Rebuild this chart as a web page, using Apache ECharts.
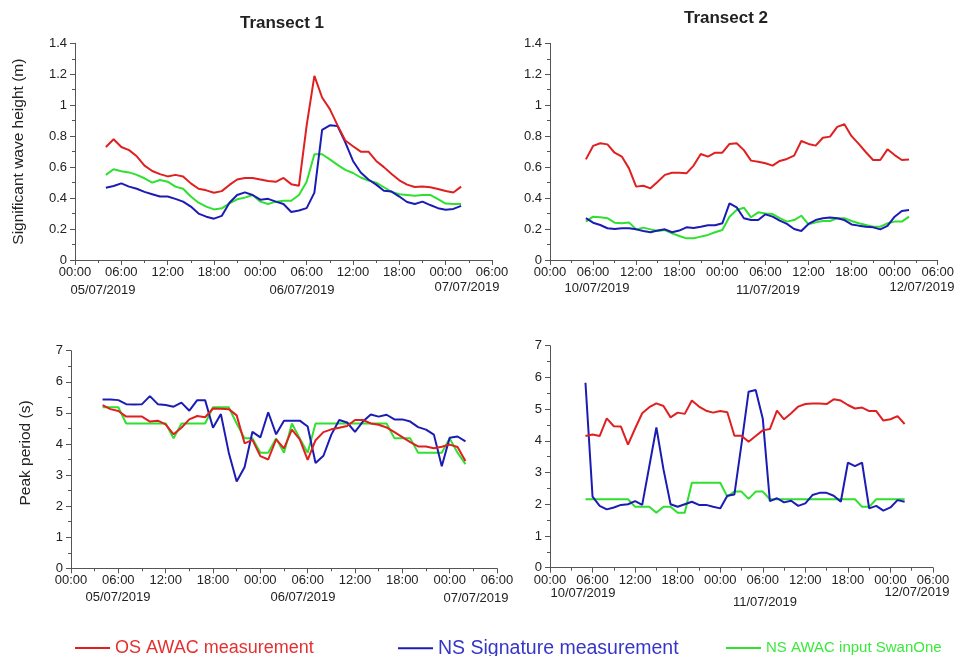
<!DOCTYPE html>
<html><head><meta charset="utf-8">
<script src="https://cdn.jsdelivr.net/npm/echarts@6/dist/echarts.min.js"></script>
<style>html,body{margin:0;padding:0;background:#fff}#c{width:957px;height:656px}</style>
</head><body><div id="c"></div>
<script>
// ---- tick labels / categories ----
const xTickLabels = ['00:00','06:00','12:00','18:00','00:00','06:00','12:00','18:00','00:00','06:00'];
const t1Dates = ['05/07/2019','06/07/2019','07/07/2019'];
const t2Dates = ['10/07/2019','11/07/2019','12/07/2019'];
const seriesNames = ['OS AWAC measurement','NS Signature measurement','NS AWAC input SwanOne'];
const t1StartHour = 4;   // 05/07/2019 04:00, hourly samples
const t2StartHour = 5;   // 10/07/2019 05:00, hourly samples

// ---- Transect 1 : significant wave height (m), hours 4..50 ----
const hsT1OS = [0.73,0.78,0.73,0.71,0.67,0.61,0.575,0.555,0.54,0.55,
  0.54,0.495,0.46,0.45,0.435,0.445,0.485,0.52,0.53,0.53,
  0.52,0.51,0.505,0.53,0.49,0.48,0.87,1.19,1.05,0.975,
  0.87,0.772,0.735,0.70,0.70,0.64,0.60,0.555,0.515,0.487,
  0.472,0.475,0.47,0.459,0.446,0.436,0.474];
const hsT1NS = [0.467,0.478,0.495,0.474,0.46,0.44,0.425,0.41,0.41,0.395,
  0.377,0.345,0.30,0.28,0.267,0.285,0.37,0.42,0.437,0.42,
  0.39,0.395,0.377,0.362,0.31,0.32,0.335,0.435,0.84,0.87,
  0.865,0.76,0.64,0.565,0.52,0.487,0.447,0.442,0.41,0.375,
  0.362,0.377,0.355,0.335,0.325,0.33,0.35];
const hsT1Swan = [0.55,0.586,0.573,0.566,0.55,0.528,0.50,0.517,0.506,0.474,
  0.46,0.41,0.37,0.345,0.327,0.334,0.366,0.392,0.403,0.42,
  0.377,0.362,0.377,0.383,0.383,0.42,0.505,0.683,0.683,0.65,
  0.615,0.582,0.562,0.533,0.513,0.50,0.47,0.44,0.425,0.42,
  0.415,0.42,0.42,0.393,0.365,0.362,0.362];

// ---- Transect 2 : significant wave height (m), hours 5..50 ----
const hsT2OS = [0.65,0.737,0.754,0.747,0.693,0.668,0.592,0.474,0.48,0.463,
  0.506,0.55,0.564,0.564,0.56,0.61,0.685,0.668,0.693,0.693,
  0.75,0.754,0.71,0.642,0.635,0.625,0.61,0.64,0.653,0.674,
  0.769,0.75,0.739,0.79,0.797,0.86,0.877,0.80,0.75,0.696,
  0.646,0.646,0.715,0.678,0.646,0.65];
const hsT2NS = [0.27,0.241,0.226,0.205,0.20,0.205,0.205,0.198,0.187,0.179,
  0.19,0.198,0.179,0.19,0.211,0.207,0.215,0.224,0.224,0.237,
  0.366,0.34,0.27,0.258,0.258,0.295,0.28,0.254,0.233,0.20,
  0.187,0.233,0.258,0.27,0.274,0.27,0.258,0.23,0.222,0.215,
  0.211,0.198,0.22,0.28,0.317,0.323];
const hsT2Swan = [0.248,0.28,0.276,0.27,0.241,0.237,0.243,0.198,0.209,0.198,
  0.187,0.194,0.172,0.155,0.14,0.14,0.151,0.162,0.179,0.194,
  0.28,0.323,0.338,0.276,0.308,0.30,0.297,0.27,0.248,0.258,
  0.286,0.23,0.243,0.252,0.252,0.27,0.27,0.252,0.237,0.226,
  0.215,0.215,0.237,0.248,0.248,0.28];

// ---- Transect 1 : peak period (s), hours 4..50 ----
const tpT1OS = [5.25,5.12,5.06,4.88,4.88,4.88,4.72,4.75,4.63,4.31,
  4.52,4.79,4.9,4.86,5.14,5.13,5.12,4.92,4.02,4.13,
  3.61,3.5,4.15,3.86,4.46,4.15,3.49,4.12,4.38,4.47,
  4.52,4.58,4.77,4.77,4.66,4.62,4.53,4.38,4.22,4.06,
  3.92,3.92,3.86,3.91,3.98,3.9,3.45];
const tpT1NS = [5.43,5.43,5.41,5.28,5.27,5.28,5.54,5.28,5.25,5.20,
  5.33,5.07,5.41,5.41,4.52,4.96,3.72,2.79,3.25,4.39,
  4.21,5.02,4.31,4.75,4.75,4.75,4.56,3.39,3.62,4.3,
  4.77,4.69,4.39,4.72,4.95,4.88,4.94,4.79,4.79,4.72,
  4.54,4.46,4.3,3.28,4.2,4.24,4.08];
const tpT1Swan = [5.18,5.18,5.18,4.66,4.66,4.66,4.66,4.66,4.66,4.18,
  4.66,4.66,4.66,4.66,5.18,5.18,5.18,4.66,4.18,4.18,
  3.72,3.72,4.18,3.72,4.66,4.18,3.72,4.66,4.66,4.66,
  4.66,4.66,4.66,4.66,4.66,4.66,4.66,4.18,4.18,4.18,
  3.72,3.72,3.72,3.72,4.18,3.72,3.35];

// ---- Transect 2 : peak period (s), hours 5..50 ----
const tpT2OS = [4.15,4.2,4.15,4.71,4.46,4.45,3.88,4.39,4.87,5.06,
  5.18,5.1,4.74,4.89,4.85,5.27,5.08,4.95,4.89,4.94,
  4.9,4.16,4.16,3.97,4.15,4.33,4.37,4.95,4.68,4.87,
  5.08,5.16,5.18,5.18,5.16,5.31,5.27,5.13,5.02,5.05,
  4.94,4.94,4.64,4.68,4.78,4.53];
const tpT2NS = [5.83,2.24,1.95,1.84,1.9,1.98,2.0,2.1,1.98,3.2,
  4.42,3.1,2.0,1.92,2.0,2.08,1.98,1.98,1.92,1.87,
  2.27,2.31,3.9,5.55,5.6,4.7,2.1,2.19,2.06,2.11,
  1.95,2.03,2.29,2.36,2.36,2.27,2.08,3.31,3.2,3.31,
  1.87,1.95,1.8,1.9,2.13,2.08];
const tpT2Swan = [2.16,2.16,2.16,2.16,2.16,2.16,2.16,1.92,1.92,1.92,
  1.73,1.92,1.92,1.73,1.73,2.68,2.68,2.68,2.68,2.68,
  2.24,2.4,2.4,2.17,2.4,2.4,2.16,2.16,2.16,2.16,
  2.16,2.16,2.16,2.16,2.16,2.16,2.16,2.16,2.16,1.92,
  1.92,2.16,2.16,2.16,2.16,2.16];

// ---- styling ----
const colors = ['#e02020','#1c1cb4','#2fe02f'];
const legendText = ['#e53030','#3535c8','#3ce83c'];
const legendSizes = [18, 19.5, 15];
const legendLefts = [75, 398, 726];
const FONT = 'Liberation Sans, Arial, sans-serif';
const axisCol = '#555';

function pairs(start, vals){ return vals.map((v,i)=>[start+i, v]); }

const grids = [
  {left:75, top:43.3, width:417, height:216.7},
  {left:550, top:43.3, width:390, height:216.7},
  {left:71, top:350.7, width:426, height:217.6},
  {left:550, top:345.7, width:383, height:222}
];

function xAxis(i){
  return {type:'value', gridIndex:i, min:0, max:54, interval:6,
    axisLine:{show:true, lineStyle:{color:axisCol, width:1}},
    axisTick:{show:true, length:5, lineStyle:{color:axisCol}},
    minorTick:{show:true, splitNumber:2, length:3, lineStyle:{color:axisCol}},
    splitLine:{show:false},
    axisLabel:{margin:6, fontSize:13, color:'#222', fontFamily:FONT,
      formatter:(v)=>xTickLabels[Math.round(v/6)]}};
}
function yAxis(i, max, interval, name, gap, pad){
  return {type:'value', gridIndex:i, min:0, max:max, interval:interval,
    name:name, nameLocation:'middle', nameGap:gap,
    nameTextStyle:{fontSize:15.5, color:'#222', fontFamily:FONT, padding:pad||0},
    axisLine:{show:true, lineStyle:{color:axisCol, width:1}},
    axisTick:{show:true, length:5, lineStyle:{color:axisCol}},
    minorTick:{show:true, splitNumber:2, length:3, lineStyle:{color:axisCol}},
    splitLine:{show:false},
    axisLabel:{margin:8, fontSize:13, color:'#222', fontFamily:FONT}};
}

const panelData = [
  {start:t1StartHour, sets:[hsT1OS, hsT1NS, hsT1Swan]},
  {start:t2StartHour, sets:[hsT2OS, hsT2NS, hsT2Swan]},
  {start:t1StartHour, sets:[tpT1OS, tpT1NS, tpT1Swan]},
  {start:t2StartHour, sets:[tpT2OS, tpT2NS, tpT2Swan]}
];
const series = [];
panelData.forEach((p, gi)=>{
  p.sets.forEach((vals, si)=>{
    series.push({type:'line', name:seriesNames[si], xAxisIndex:gi, yAxisIndex:gi,
      data:pairs(p.start, vals), showSymbol:false, symbol:'none', animation:false,
      lineStyle:{color:colors[si], width:2}, itemStyle:{color:colors[si]}, z:3-si});
  });
});

function txt(s, x, y, font){
  return {type:'text', x:x, y:y, silent:true,
    style:{text:s, textAlign:'center', textVerticalAlign:'middle', font:font||('13px '+FONT), fill:'#222'}};
}
const graphics = [
  txt('Transect 1', 282, 23, 'bold 17px '+FONT),
  txt('Transect 2', 726, 18, 'bold 17px '+FONT),
  txt(t1Dates[0], 103, 290), txt(t1Dates[1], 302, 290), txt(t1Dates[2], 467, 287),
  txt(t2Dates[0], 597, 288), txt(t2Dates[1], 768, 290), txt(t2Dates[2], 922, 287),
  txt(t1Dates[0], 118, 597), txt(t1Dates[1], 303, 597), txt(t1Dates[2], 476, 598),
  txt(t2Dates[0], 583, 593), txt(t2Dates[1], 765, 602), txt(t2Dates[2], 917, 592)
];

function legend(idx){
  const s = legendSizes[idx];
  return {show:true, data:[seriesNames[idx]], left:legendLefts[idx], top:648 - s/2, padding:0, icon:'rect',
    itemWidth:35, itemHeight:2, itemGap:0, selectedMode:false,
    textStyle:{fontSize:s, color:legendText[idx], fontFamily:FONT}};
}

const chart = echarts.init(document.getElementById('c'), null, {renderer:'canvas'});
chart.setOption({
  backgroundColor:'#fff',
  animation:false,
  grid:grids,
  xAxis:[xAxis(0), xAxis(1), xAxis(2), xAxis(3)],
  yAxis:[yAxis(0,1.4,0.2,'Significant wave height (m)',48), yAxis(1,1.4,0.2,'',40),
         yAxis(2,7,1,'Peak period (s)',37,[0,0,0,13]), yAxis(3,7,1,'',40)],
  legend:[legend(0), legend(1), legend(2)],
  series:series,
  graphic:graphics
});
</script></body></html>
